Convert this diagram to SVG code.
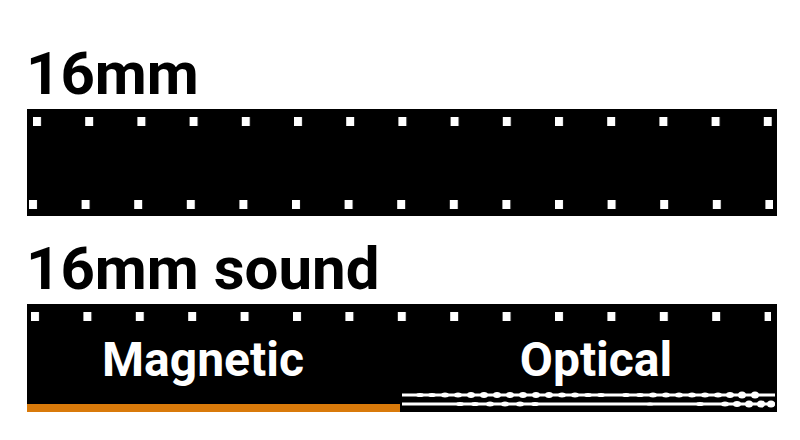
<svg xmlns="http://www.w3.org/2000/svg" width="800" height="440" viewBox="0 0 800 440">
<style>
.t{font-family:Roboto,"Liberation Sans",sans-serif;font-weight:bold;fill:#000;font-size:60px}
.l{font-family:Roboto,"Liberation Sans",sans-serif;font-weight:bold;fill:#fff;font-size:48px;text-anchor:middle}
.h{fill:#fff}
</style>
<defs>
<pattern id="pt" x="33" y="0" width="52.2" height="440" patternUnits="userSpaceOnUse"><rect class="h" x="0" y="0" width="8" height="440"/></pattern>
<pattern id="pb" x="29" y="0" width="52.6" height="440" patternUnits="userSpaceOnUse"><rect class="h" x="0" y="0" width="8" height="440"/></pattern>
<pattern id="p2" x="31" y="0" width="52.4" height="440" patternUnits="userSpaceOnUse"><rect class="h" x="0" y="0" width="8" height="440"/></pattern>
</defs>
<g id="film16">
<text class="t" x="26" y="94">16mm</text>
<rect x="27" y="109" width="750" height="107" fill="#000"/>
<rect x="30" y="117" width="742" height="9" fill="url(#pt)"/>
<rect x="28" y="200" width="745" height="9" fill="url(#pb)"/>
</g>
<g id="film16sound">
<text class="t" x="26" y="289">16mm sound</text>
<rect x="27" y="304" width="750" height="108" fill="#000"/>
<rect x="29" y="312" width="742" height="9" fill="url(#p2)"/>
<rect x="27" y="404" width="373" height="8" fill="#d97a0a"/>
<text class="l" x="203" y="376">Magnetic</text>
<text class="l" x="596" y="376">Optical</text>
<g fill="#fff">
<rect x="402" y="393.5" width="373" height="3"/>
<rect x="402" y="402.5" width="373" height="3"/>
<ellipse cx="420" cy="395" rx="4" ry="2"/><ellipse cx="432" cy="395" rx="4" ry="2"/><ellipse cx="445" cy="395" rx="4" ry="2.5"/><ellipse cx="458" cy="395" rx="4" ry="2.5"/><ellipse cx="471" cy="395" rx="4" ry="3"/><ellipse cx="484" cy="395" rx="4" ry="3"/><ellipse cx="497" cy="395" rx="4" ry="3"/><ellipse cx="510" cy="395" rx="4" ry="3"/><ellipse cx="523" cy="395" rx="4" ry="3"/><ellipse cx="536" cy="395" rx="4" ry="3"/><ellipse cx="549" cy="395" rx="4" ry="3"/><ellipse cx="562" cy="395" rx="4" ry="2.5"/><ellipse cx="575" cy="395" rx="4" ry="2.5"/><ellipse cx="588" cy="395" rx="4" ry="2"/><ellipse cx="601" cy="395" rx="4" ry="2"/><ellipse cx="626" cy="395" rx="4" ry="2"/><ellipse cx="640" cy="395" rx="4" ry="2"/><ellipse cx="653" cy="395" rx="4" ry="2.5"/><ellipse cx="666" cy="395" rx="4" ry="2.5"/><ellipse cx="679" cy="395" rx="4" ry="2.5"/><ellipse cx="692" cy="395" rx="4" ry="2.5"/><ellipse cx="705" cy="395" rx="4" ry="2.5"/><ellipse cx="718" cy="395" rx="4" ry="2.5"/><ellipse cx="730" cy="395" rx="4" ry="3"/><ellipse cx="742" cy="395" rx="4" ry="3.5"/><ellipse cx="755" cy="395" rx="4" ry="3.5"/>
<ellipse cx="460" cy="404" rx="4" ry="2"/><ellipse cx="475" cy="404" rx="4" ry="2"/><ellipse cx="490" cy="404" rx="4" ry="2.5"/><ellipse cx="505" cy="404" rx="4" ry="2.5"/><ellipse cx="520" cy="404" rx="4" ry="2.5"/><ellipse cx="535" cy="404" rx="4" ry="2"/><ellipse cx="650" cy="404" rx="4" ry="1.5"/><ellipse cx="700" cy="404" rx="4" ry="2"/><ellipse cx="725" cy="404" rx="4" ry="2.5"/><ellipse cx="737" cy="404" rx="4" ry="3"/><ellipse cx="749" cy="404" rx="4" ry="3.5"/><ellipse cx="761" cy="404" rx="4" ry="3.5"/><ellipse cx="771" cy="404" rx="4" ry="3.5"/>
</g>
</g>
<g id="connectors"/>
</svg>
